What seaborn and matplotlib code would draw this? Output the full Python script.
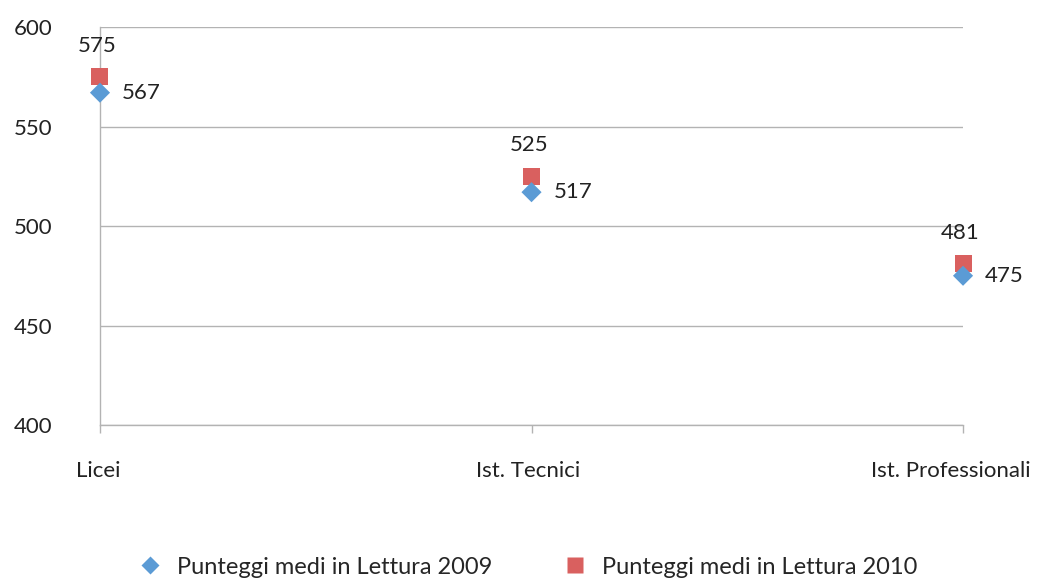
import pandas as pd
import seaborn as sns
import matplotlib.pyplot as plt
import matplotlib.transforms as mtransforms
from matplotlib.lines import Line2D

# Chart data
categories = ['Licei', 'Ist. Tecnici', 'Ist. Professionali']
scores_2009 = [567, 517, 475]
scores_2010 = [575, 525, 481]
series_names = ['Punteggi medi in Lettura 2009', 'Punteggi medi in Lettura 2010']

blue = '#5B9BD5'
red = '#D9605F'
grid_col = '#B3B3B3'
text_col = '#222222'
fs = 16

sns.set_style('white')
plt.rcParams['font.family'] = ['Lato', 'DejaVu Sans']

df = pd.DataFrame({'Tipo': categories * 2,
                   'Punteggio': scores_2009 + scores_2010,
                   'Serie': [series_names[0]] * 3 + [series_names[1]] * 3})
df['x'] = df['Tipo'].map({c: i for i, c in enumerate(categories)})

fig = plt.figure(figsize=(10.47, 5.81), dpi=100)
ax = fig.add_axes([0.0955, 0.2685, 0.8243, 0.685])

# 2010 squares first so the 2009 diamonds sit on top
d10 = df[df['Serie'] == series_names[1]]
d09 = df[df['Serie'] == series_names[0]]
sns.scatterplot(data=d10, x='x', y='Punteggio', marker='s', s=150, color=red,
                edgecolor='none', ax=ax, legend=False, zorder=3, clip_on=False)
sns.scatterplot(data=d09, x='x', y='Punteggio', marker='D', s=105, color=blue,
                edgecolor='none', ax=ax, legend=False, zorder=4, clip_on=False)

# Value labels
for xi, v in zip(d09['x'], d09['Punteggio']):
    ax.annotate(str(v), (xi, v), xytext=(16, 0), textcoords='offset points',
                ha='left', va='center', fontsize=fs, color=text_col)
for xi, v in zip(d10['x'], d10['Punteggio']):
    ax.annotate(str(v), (xi, v), xytext=(-2, 15), textcoords='offset points',
                ha='center', va='bottom', fontsize=fs, color=text_col)

ax.set_xlim(0, 2)
ax.set_ylim(400, 600)
ax.set_yticks([400, 450, 500, 550, 600])
ax.set_xticks(range(len(categories)))
ax.set_xticklabels(categories)
ax.yaxis.grid(True, color=grid_col, linewidth=1)
ax.set_axisbelow(True)
ax.set_xlabel('')
ax.set_ylabel('')

for side in ['top', 'right']:
    ax.spines[side].set_visible(False)
for side in ['left', 'bottom']:
    ax.spines[side].set_color(grid_col)
    ax.spines[side].set_linewidth(1)

ax.tick_params(axis='y', length=0, pad=34.5, labelsize=fs, labelcolor=text_col)
ax.tick_params(axis='x', length=6, width=1, color=grid_col, pad=20,
               labelsize=fs, labelcolor=text_col, direction='out', bottom=True)

# Category labels sit a bit left; the last one is pulled inside the chart
shifts = [-2, -3, -12]
for lbl, dx in zip(ax.get_xticklabels(), shifts):
    offset = mtransforms.ScaledTranslation(dx / 100, 0, fig.dpi_scale_trans)
    lbl.set_transform(lbl.get_transform() + offset)

# Legend at the bottom
handles = [Line2D([], [], marker='D', linestyle='none', color=blue, markersize=9,
                  markeredgecolor='none'),
           Line2D([], [], marker='s', linestyle='none', color=red, markersize=11,
                  markeredgecolor='none')]
fig.legend(handles, series_names, loc='center', bbox_to_anchor=(0.503, 0.024),
           ncol=2, frameon=False, fontsize=17, columnspacing=2.9,
           handletextpad=0.55, handlelength=1.2)

fig.savefig('out.png', dpi=100)
